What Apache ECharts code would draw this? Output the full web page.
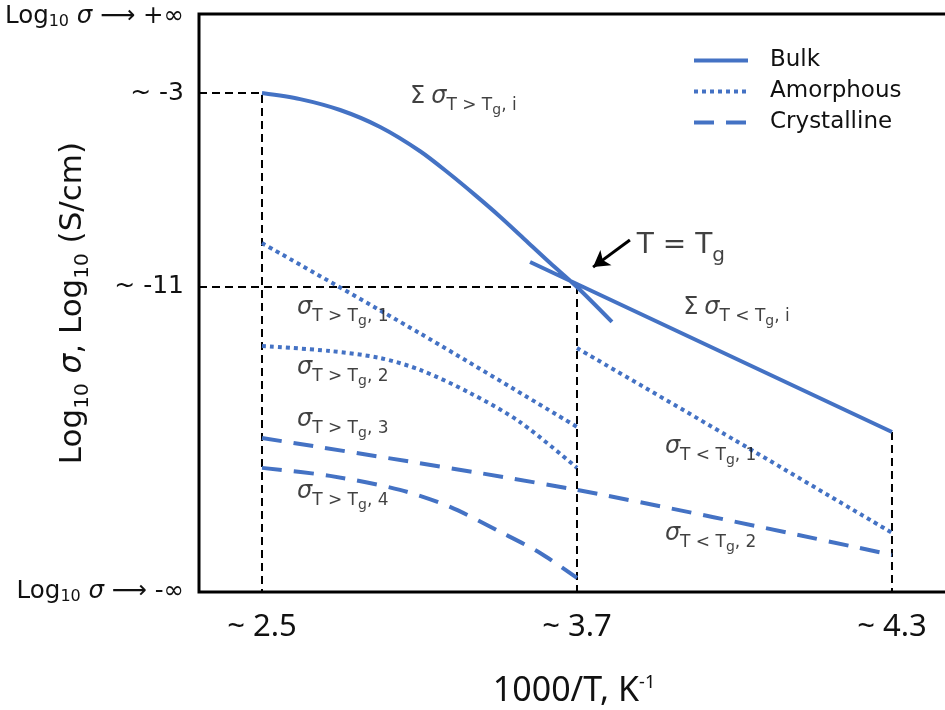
<!DOCTYPE html>
<html>
<head>
<meta charset="utf-8">
<script src="https://cdn.jsdelivr.net/npm/echarts@6/dist/echarts.min.js"></script>
<style>
  html, body { margin: 0; padding: 0; background: #fff; }
  #chart { width: 945px; height: 710px; }
</style>
</head>
<body>
<div id="chart"></div>
<script>
// Schematic x positions: 0, 1, 2 stand for the three marked 1000/T values
const xTickPos = [0, 1, 2];
const xTickLabels = ['~ 2.5', '~ 3.7', '~ 4.3'];

// Log10 sigma range of the schematic (top = +inf side, bottom = -inf side)
const yTop = 0.26;
const yBottom = -23.58;
const yMarks = [-3, -11];
// Where the two limit labels sit on the axis
const yTopLabel = 0.136;
const yBottomLabel = yBottom;

// Bulk conductivity: above Tg (curved) and below Tg (straight)
const bulkAbove = [[0, -3], [0.121, -3.25], [0.248, -3.7], [0.375, -4.4], [0.502, -5.4], [0.597, -6.35],
  [0.676, -7.2], [0.756, -8.1], [0.835, -9.05], [0.914, -10.0], [1.0, -11.0], [1.111, -12.44]];
const bulkBelow = [[0.851, -9.97], [2.0, -16.98]];

// Amorphous contributions
const amorph1Above = [[0, -9.19], [0.5, -12.9], [1.0, -16.77]];
const amorph2Above = [[0, -13.43], [0.216, -13.64], [0.375, -13.93], [0.502, -14.42], [0.66, -15.37], [0.819, -16.57], [1.0, -18.46]];
const amorph1Below = [[1.0, -13.52], [1.5, -17.31], [2.0, -21.14]];

// Crystalline contributions
const cryst3 = [[0, -17.23], [1.0, -19.37], [2.0, -22.05]];
const cryst4 = [[0, -18.46], [0.216, -18.79], [0.438, -19.37], [0.597, -20.07], [0.756, -21.1], [0.883, -21.97], [1.0, -23.0]];

// Helper: join separate pieces of one style into a single broken line
function joinPieces(pieces) {
  const out = [];
  pieces.forEach((p, i) => {
    if (i > 0) out.push('-');
    p.forEach(pt => out.push(pt));
  });
  return out;
}

const blue = '#4472C4';
const sansFont = "'DejaVu Sans', 'Noto Sans', sans-serif";
const narrowFont = "'Liberation Sans Narrow', 'Noto Sans', sans-serif";

const solidStyle = { color: blue, width: 4, type: 'solid' };
const dotStyle = { color: blue, width: 4, type: [4, 4] };
const dashStyle = { color: blue, width: 4, type: [20, 12] };

// Rich styles for sigma annotations with nested subscripts
const sigmaRich = {
  s: { fontSize: 24, fontStyle: 'italic', fontFamily: sansFont, color: '#111', lineHeight: 24, padding: [0, 0, 8, 0], verticalAlign: 'bottom' },
  S: { fontSize: 24, fontFamily: sansFont, color: '#111', lineHeight: 24, padding: [0, 6, 8, 0], verticalAlign: 'bottom' },
  b: { fontSize: 17, fontFamily: sansFont, color: '#111', lineHeight: 17, padding: [0, 0, 3, 0], verticalAlign: 'bottom' },
  g: { fontSize: 14, fontFamily: sansFont, color: '#111', lineHeight: 14, padding: [0, 0, 0, 0], verticalAlign: 'bottom' },
  T: { fontSize: 28, fontFamily: sansFont, color: '#111', lineHeight: 28, padding: [0, 0, 6, 0], verticalAlign: 'bottom' },
  tg: { fontSize: 20, fontFamily: sansFont, color: '#111', lineHeight: 20, padding: [0, 0, 0, 0], verticalAlign: 'bottom' }
};

function sigmaText(sign, idx) {
  return '{s|σ}{b|T ' + sign + ' T}{g|g}{b|, ' + idx + '}';
}

const notes = [
  { value: [0.47, -3.49], text: '{S|Σ}' + sigmaText('>', 'i') },
  { value: [1.19, -9.56], text: '{T|T = T}{tg|g}' },
  { value: [1.337, -12.2], text: '{S|Σ}' + sigmaText('<', 'i') },
  { value: [0.111, -12.2], text: sigmaText('>', '1') },
  { value: [0.111, -14.67], text: sigmaText('>', '2') },
  { value: [0.111, -16.81], text: sigmaText('>', '3') },
  { value: [0.111, -19.78], text: sigmaText('>', '4') },
  { value: [1.279, -17.93], text: sigmaText('<', '1') },
  { value: [1.279, -21.52], text: sigmaText('<', '2') }
];

// Dashed guide lines marking the reference temperatures and conductivities
const xMin = -0.2, xMax = 2.181;
const guides = joinPieces([
  [[xMin, -3], [0, -3], [0, yBottom]],
  [[xMin, -11], [1, -11], [1, yBottom]],
  [[2, -16.98], [2, yBottom]]
]);

const chart = echarts.init(document.getElementById('chart'), null, { renderer: 'canvas' });

const yLabelRich = {
  big: { fontSize: 25, fontFamily: sansFont, color: '#111' },
  L: { fontSize: 24.5, fontFamily: sansFont, color: '#111', lineHeight: 25, padding: [3, 0, 3, 0] },
  sub: { fontSize: 16, fontFamily: sansFont, color: '#111', verticalAlign: 'bottom', lineHeight: 16 },
  i: { fontSize: 24.5, fontStyle: 'italic', fontFamily: sansFont, color: '#111', lineHeight: 25, padding: [3, 0, 3, 0] }
};

chart.setOption({
  animation: false,
  backgroundColor: '#fff',
  grid: {
    left: 199, right: -4, top: 14, bottom: 118,
    show: true, borderColor: '#000', borderWidth: 3,
    containLabel: false, outerBoundsMode: 'none'
  },
  legend: {
    orient: 'vertical',
    left: 692,
    top: 49,
    padding: 0,
    itemWidth: 54,
    itemHeight: 16,
    itemGap: 8,
    itemStyle: { opacity: 0 },
    data: [
      { name: 'Bulk', lineStyle: solidStyle },
      { name: 'Amorphous', lineStyle: dotStyle },
      { name: 'Crystalline', lineStyle: dashStyle }
    ],
    textStyle: { fontSize: 23, fontFamily: sansFont, color: '#111', padding: [0, 0, 0, 17] }
  },
  xAxis: {
    type: 'value',
    min: xMin,
    max: xMax,
    axisLine: { show: false },
    axisTick: { show: false },
    splitLine: { show: false },
    axisLabel: {
      customValues: xTickPos,
      margin: 20,
      fontSize: 31,
      fontFamily: narrowFont,
      color: '#111',
      formatter: v => xTickLabels[Math.round(v)]
    },
    name: '1000/T, K{sup|-1}',
    nameLocation: 'middle',
    nameGap: 82,
    nameMoveOverlap: false,
    nameTextStyle: {
      fontSize: 34,
      fontFamily: narrowFont,
      color: '#111',
      rich: { sup: { fontSize: 18, fontFamily: narrowFont, color: '#111', verticalAlign: 'top', lineHeight: 16 } }
    }
  },
  yAxis: {
    type: 'value',
    min: yBottom,
    max: yTop,
    axisLine: { show: false },
    axisTick: { show: false },
    splitLine: { show: false },
    axisLabel: {
      customValues: [yBottomLabel, yMarks[1], yMarks[0], yTopLabel],
      margin: 15,
      formatter: v => {
        if (v === yTopLabel) return '{L|Log}{sub|10}{L| }{i|σ}{L| ⟶ +∞}';
        if (v === yBottomLabel) return '{L|Log}{sub|10}{L| }{i|σ}{L| ⟶ -∞}';
        return '{big|~ ' + Math.round(v) + '}';
      },
      rich: yLabelRich
    },
    name: '{m|Log}{s|10}{m| }{i|σ}{m|, Log}{s|10}{m| (S/cm)}',
    nameLocation: 'middle',
    nameGap: 106,
    nameRotate: 90,
    nameMoveOverlap: false,
    nameTextStyle: {
      rich: {
        m: { fontSize: 31, fontFamily: sansFont, color: '#111', verticalAlign: 'bottom', lineHeight: 31, padding: [0, 0, 5, 0] },
        i: { fontSize: 31, fontStyle: 'italic', fontFamily: sansFont, color: '#111', verticalAlign: 'bottom', lineHeight: 31, padding: [0, 0, 5, 0] },
        s: { fontSize: 20, fontFamily: sansFont, color: '#111', verticalAlign: 'bottom', lineHeight: 20 }
      }
    }
  },
  series: [
    {
      name: 'guides',
      type: 'line',
      data: guides,
      symbol: 'none',
      z: 1,
      silent: true,
      lineStyle: { color: '#000', width: 2, type: [8, 5] },
      markLine: {
        silent: true,
        symbol: ['none', 'arrow'],
        symbolSize: [14, 16],
        label: { show: false },
        lineStyle: { color: '#000', width: 3, type: 'solid' },
        data: [[{ coord: [1.168, -9.06] }, { coord: [1.051, -10.18] }]]
      }
    },
    {
      name: 'Bulk',
      type: 'line',
      data: joinPieces([bulkAbove, bulkBelow]),
      symbol: 'none',
      smooth: 0.3,
      z: 3,
      color: blue,
      lineStyle: solidStyle
    },
    {
      name: 'Amorphous',
      type: 'line',
      data: joinPieces([amorph1Above, amorph2Above, amorph1Below]),
      symbol: 'none',
      smooth: 0.3,
      z: 3,
      color: blue,
      lineStyle: dotStyle
    },
    {
      name: 'Crystalline',
      type: 'line',
      data: joinPieces([cryst3, cryst4]),
      symbol: 'none',
      smooth: 0.3,
      z: 3,
      color: blue,
      lineStyle: dashStyle
    },
    {
      name: 'notes',
      type: 'scatter',
      symbolSize: 0,
      silent: true,
      z: 5,
      data: notes.map(n => ({
        value: n.value,
        label: { show: true, position: 'right', distance: 0, formatter: n.text, rich: sigmaRich }
      }))
    }
  ]
});
</script>
</body>
</html>
